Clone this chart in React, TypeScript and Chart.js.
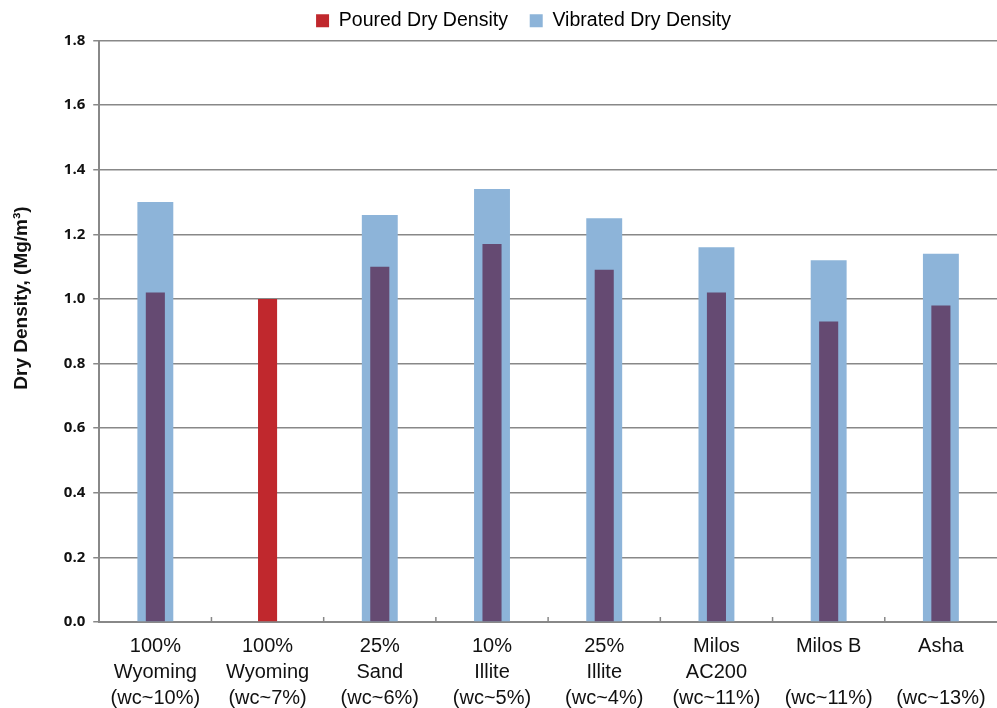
import React, { useEffect, useRef } from "react";
import { Chart, registerables } from "chart.js";

Chart.register(...registerables);

const categories: string[][] = [
  ["100%", "Wyoming", "(wc~10%)"],
  ["100%", "Wyoming", "(wc~7%)"],
  ["25%", "Sand", "(wc~6%)"],
  ["10%", "Illite", "(wc~5%)"],
  ["25%", "Illite", "(wc~4%)"],
  ["Milos", "AC200", "(wc~11%)"],
  ["Milos B", "", "(wc~11%)"],
  ["Asha", "", "(wc~13%)"],
];
const pouredDryDensity: (number | null)[] = [1.02, 1.0, 1.1, 1.17, 1.09, 1.02, 0.93, 0.98];
const vibratedDryDensity: (number | null)[] = [1.3, null, 1.26, 1.34, 1.25, 1.16, 1.12, 1.14];
const yTicks = [0, 0.2, 0.4, 0.6, 0.8, 1.0, 1.2, 1.4, 1.6, 1.8];

const RED = "#c0282d";
const PURPLE = "#654a72";
const BLUE = "#8db4d9";

const catTicks = {
  id: "catTicks",
  afterLayout(chart: any) {
    const leg = chart.legend;
    if (leg) {
      leg.left += 20;
      leg.right += 20;
    }
  },
  afterDatasetsDraw(chart: any) {
    const x = chart.scales.x;
    const { ctx, chartArea } = chart;
    const n = categories.length;
    const w = (chartArea.right - chartArea.left) / n;
    ctx.save();
    ctx.strokeStyle = "#888888";
    ctx.lineWidth = 1.5;
    for (let i = 1; i < n; i++) {
      const px = x.getPixelForValue(i) - w / 2;
      ctx.beginPath();
      ctx.moveTo(px, chartArea.bottom);
      ctx.lineTo(px, chartArea.bottom - 5);
      ctx.stroke();
    }
    ctx.restore();
  },
};

export default function App() {
  const ref = useRef<HTMLCanvasElement>(null);
  useEffect(() => {
    if (!ref.current) return;
    const chart = new Chart(ref.current, {
      type: "bar",
      data: {
        labels: categories,
        datasets: [
          {
            label: "Poured Dry Density",
            data: pouredDryDensity,
            backgroundColor: vibratedDryDensity.map((v) => (v == null ? RED : PURPLE)),
            barPercentage: 0.17,
            categoryPercentage: 1,
            grouped: false,
            order: 0,
          } as any,
          {
            label: "Vibrated Dry Density",
            data: vibratedDryDensity,
            backgroundColor: BLUE,
            barPercentage: 0.32,
            categoryPercentage: 1,
            grouped: false,
            order: 1,
          } as any,
        ],
      },
      plugins: [catTicks],
      options: {
        animation: false,
        responsive: false,
        maintainAspectRatio: false,
        layout: { padding: { left: 10, right: 0, top: 0, bottom: 0 } },
        plugins: {
          tooltip: { enabled: false },
          legend: {
            position: "top",
            labels: {
              font: { family: "Liberation Sans, Arial", size: 19.5 },
              color: "#111",
              boxWidth: 13,
              boxHeight: 13,
              padding: 11,
              generateLabels: () => [
                { text: "Poured Dry Density  ", fillStyle: RED, strokeStyle: RED, lineWidth: 0, datasetIndex: 0 } as any,
                { text: "Vibrated Dry Density", fillStyle: BLUE, strokeStyle: BLUE, lineWidth: 0, datasetIndex: 1 } as any,
              ],
            },
          },
        },
        scales: {
          x: {
            grid: { display: false },
            border: { color: "#888888", width: 2 },
            afterFit: (scale: any) => {
              scale.height = 86;
            },
            ticks: {
              font: { family: "Liberation Sans, Arial", size: 20, lineHeight: 1.3 },
              color: "#111",
              maxRotation: 0,
              autoSkip: false,
              padding: 3,
            },
          },
          y: {
            min: 0,
            max: 1.8,
            afterBuildTicks: (scale: any) => {
              scale.ticks = yTicks.map((v) => ({ value: v }));
            },
            grid: { color: "#888888", lineWidth: 1.5, tickLength: 6 },
            border: { color: "#888888", width: 2 },
            ticks: {
              font: { family: "Open Sans, Noto Sans", size: 15, weight: "bold" },
              color: "#111",
              padding: 8,
              callback: (v: any) => Number(v).toFixed(1),
            },
            title: {
              display: true,
              text: "\u2003\u2003\u2003\u2002Dry Density, (Mg/m³)",
              font: { family: "Liberation Sans, Arial", size: 19, weight: "bold" },
              color: "#111",
              padding: { top: 0, bottom: 23 },
            },
          },
        },
      },
    });
    return () => chart.destroy();
  }, []);
  return (
    <div style={{ position: "fixed", left: 0, top: 0, width: 997, height: 708, background: "#fff" }}>
      <canvas ref={ref} width={997} height={708} style={{ width: 997, height: 708 }} />
    </div>
  );
}
